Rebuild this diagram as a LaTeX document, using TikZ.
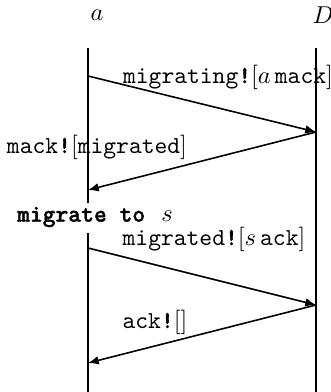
\documentclass[tikz,border=0pt]{standalone}
\usepackage{fontspec}
\usepackage{amsmath}
\setmonofont{lmmono10-regular}[Extension=.otf,
	BoldFont=lmmonolt10-bold, BoldFeatures={FakeBold=1.3}]
\usetikzlibrary{arrows.meta}

\newcommand{\msgbang}{\textbf{\texttt{!}}}

\begin{document}
\begin{tikzpicture}[x=0.41pt,y=-0.41pt,
		life/.style={line width=0.85pt},
		msg/.style={-{Latex[length=4.4pt,width=3.6pt]},line width=0.65pt},
		lbl/.style={inner sep=0pt}]
		\useasboundingbox (0,0) rectangle (331,392);
		% processes
		\node (A) at (97,15) {$a$};
		\node (D) at (323,15) {$D$};
		\coordinate (Atop) at (88,48);
		\coordinate (Dtop) at (316,48);
		\coordinate (Abreak) at (88,203);
		\coordinate (Aresume) at (88,233);
		\coordinate (Abot) at (88,392);
		\coordinate (Dbot) at (316,392);
		\draw [life] (Atop) -- (Abreak) ;
		\draw [life] (Aresume) -- (Abot) ;
		\draw [life] (Dtop) -- (Dbot) ;
		% message points
		\coordinate (A1) at (88,76);
		\coordinate (D1) at (316,132);
		\coordinate (A2) at (88,190);
		\coordinate (A3) at (88,248);
		\coordinate (D3) at (316,305);
		\coordinate (A4) at (88,363);
		\draw [msg] (A1) -- (D1) ;
		\draw [msg] (D1) -- (A2) ;
		\draw [msg] (A3) -- (D3) ;
		\draw [msg] (D3) -- (A4) ;
		% labels
		\node [lbl] (l1) at (228,77) {\texttt{migrating}\msgbang$[a\,\texttt{mack}]$};
		\node [lbl] (l2) at (97,147) {\texttt{mack}\msgbang$[\texttt{migrated}]$};
		\node [lbl] (mig) at (95,217) {\textbf{\texttt{migrate to}}\ \ $s$};
		\node [lbl] (l3) at (214,239) {\texttt{migrated}\msgbang$[s\,\texttt{ack}]$};
		\node [lbl] (l4) at (155,322) {\texttt{ack}\msgbang$[]$};
	\end{tikzpicture}
\end{document}
